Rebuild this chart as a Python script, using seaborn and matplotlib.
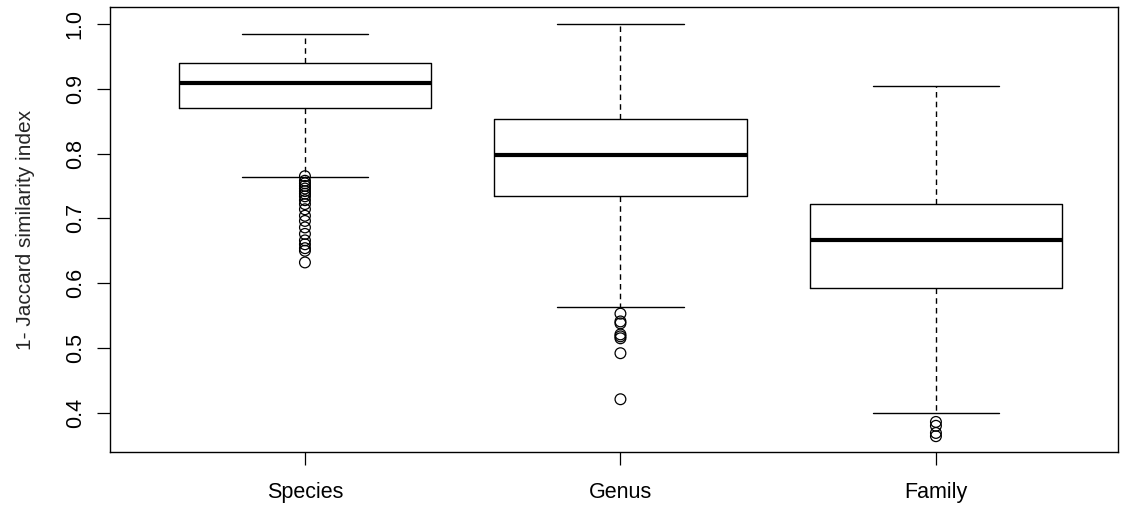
import matplotlib
matplotlib.use("Agg")
import matplotlib.pyplot as plt
import seaborn as sns
import pandas as pd

sns.set_style("white")
plt.rcParams["font.family"] = ["Liberation Sans", "DejaVu Sans"]

# Summary statistics per taxonomic level
categories = ["Species", "Genus", "Family"]
whisker_low = [0.764, 0.564, 0.400]
q1 = [0.870, 0.734, 0.592]
medians = [0.909, 0.798, 0.667]
q3 = [0.939, 0.853, 0.722]
whisker_high = [0.985, 1.000, 0.904]

# Outlying values
species_outliers = [0.765, 0.758, 0.754, 0.750, 0.746, 0.742, 0.738, 0.734,
                    0.728, 0.722, 0.714, 0.704, 0.696, 0.686, 0.676, 0.666,
                    0.660, 0.654, 0.650, 0.632]
genus_outliers = [0.553, 0.541, 0.538, 0.521, 0.518, 0.515, 0.492, 0.421]
family_outliers = [0.386, 0.380, 0.369, 0.364]

y_ticks = [0.4, 0.5, 0.6, 0.7, 0.8, 0.9, 1.0]
y_label = "1- Jaccard similarity index"

stats = []
for i, name in enumerate(categories):
    stats.append({
        "label": name,
        "whislo": whisker_low[i],
        "q1": q1[i],
        "med": medians[i],
        "q3": q3[i],
        "whishi": whisker_high[i],
        "fliers": [],
    })

outliers = pd.DataFrame({
    "level": (["Species"] * len(species_outliers)
              + ["Genus"] * len(genus_outliers)
              + ["Family"] * len(family_outliers)),
    "value": species_outliers + genus_outliers + family_outliers,
})
outliers["pos"] = outliers["level"].map({c: i + 1 for i, c in enumerate(categories)})

fig = plt.figure(figsize=(11.21, 5.08), dpi=100)
ax = fig.add_axes([0.0981, 0.1102, 0.8992, 0.8753])

ax.bxp(
    stats,
    positions=[1, 2, 3],
    widths=0.8,
    showfliers=False,
    patch_artist=False,
    boxprops=dict(color="black", linewidth=1.0),
    medianprops=dict(color="black", linewidth=3.0, solid_capstyle="butt"),
    whiskerprops=dict(color="black", linewidth=1.0, linestyle=(0, (4, 3))),
    capprops=dict(color="black", linewidth=1.0),
    capwidths=0.4,
)

sns.scatterplot(
    data=outliers, x="pos", y="value", ax=ax,
    marker="o", s=60, facecolor="none", edgecolor="black", linewidth=0.9,
    legend=False, zorder=3,
)

ax.set_xlim(0.382, 3.577)
ax.set_ylim(0.3396, 1.0254)
ax.set_xticks([1, 2, 3])
ax.set_xticklabels(categories)
ax.set_yticks(y_ticks)
ax.set_yticklabels([f"{t:.1f}" for t in y_ticks], rotation=90, va="center")
ax.set_xlabel("")
ax.set_ylabel(y_label, fontsize=15, labelpad=21)

ax.tick_params(axis="y", which="both", left=True, length=9.5, width=0.9,
               labelsize=15.5, pad=8, colors="black")
ax.tick_params(axis="x", which="both", bottom=True, length=9.5, width=0.9,
               labelsize=15.5, pad=12, colors="black")

for side in ["top", "right"]:
    ax.spines[side].set_visible(True)
    ax.spines[side].set_color("black")
    ax.spines[side].set_linewidth(1.0)
ax.spines["left"].set_color("black")
ax.spines["left"].set_linewidth(1.0)
ax.spines["bottom"].set_color("black")
ax.spines["bottom"].set_linewidth(1.0)
ax.grid(False)

fig.savefig("out.png", dpi=100)
